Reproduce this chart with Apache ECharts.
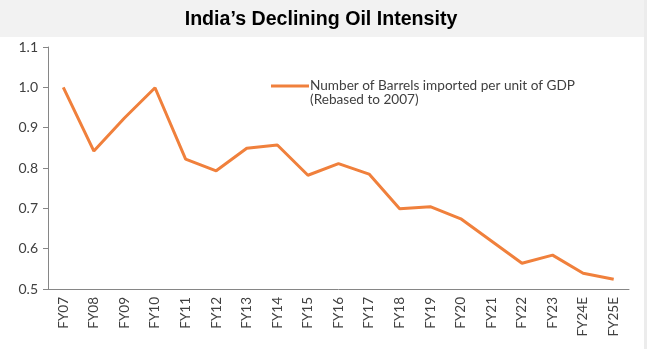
<!DOCTYPE html>
<html><head><meta charset="utf-8">
<script src="https://cdn.jsdelivr.net/npm/echarts@6/dist/echarts.min.js"></script>
<style>html,body{margin:0;padding:0;background:#fff}#c{width:647px;height:349px}</style>
</head><body><div id="c"></div>
<script>
const categories = ['FY07','FY08','FY09','FY10','FY11','FY12','FY13','FY14','FY15','FY16','FY17','FY18','FY19','FY20','FY21','FY22','FY23','FY24E','FY25E'];
const barrelsPerGDP = [1.0,0.842,0.924,0.999,0.822,0.793,0.849,0.857,0.782,0.811,0.785,0.699,0.704,0.674,0.619,0.564,0.584,0.539,0.524];
const yTicks = {min:0.5, max:1.1, interval:0.1};
const seriesName = 'Number of Barrels imported per unit of GDP';
const subtitle = '(Rebased to 2007)';
const titleText = 'India\u2019s Declining Oil Intensity';
const labelFont = 'Lato, Carlito, Calibri, sans-serif';

const chart = echarts.init(document.getElementById('c'));
chart.setOption({
  animation:false,
  backgroundColor:'#fff',
  graphic:[
    {type:'rect',z:-1,shape:{x:0,y:0,width:647,height:37},style:{fill:'#f2f2f2'}},
    {type:'rect',z:-1,shape:{x:644,y:0,width:3,height:349},style:{fill:'#ececec'}},
    {type:'text',x:321,y:19.5,scaleX:0.98,originX:0,
      style:{text:titleText,font:'bold 20px "Liberation Sans", Arial, sans-serif',fill:'#000',align:'center',verticalAlign:'middle'}},
    {type:'text',left:310,top:93,style:{text:subtitle,font:'13.6px '+labelFont,fill:'#404040'}}
  ],
  legend:{left:266,top:74,itemWidth:38,itemHeight:3,itemGap:4,icon:'rect',
    textStyle:{fontFamily:labelFont,fontSize:13.6,color:'#404040',padding:[0,0,0,-4]},
    data:[seriesName]},
  grid:{left:48,right:18,top:47,bottom:60},
  xAxis:{type:'category',data:categories,boundaryGap:true,
    axisLine:{lineStyle:{color:'#868686',width:1}},
    axisTick:{alignWithLabel:false,length:5,lineStyle:{color:'#868686'}},
    axisLabel:{rotate:90,interval:0,color:'#404040',fontSize:13.5,fontFamily:labelFont,margin:8}},
  yAxis:{type:'value',min:yTicks.min,max:yTicks.max,interval:yTicks.interval,
    axisLine:{show:true,lineStyle:{color:'#868686'}},
    axisTick:{show:true,length:5,lineStyle:{color:'#868686'}},
    splitLine:{show:false},
    axisLabel:{color:'#404040',fontSize:14,fontFamily:labelFont,margin:10,formatter:v=>v.toFixed(1)}},
  series:[{name:seriesName,type:'line',data:barrelsPerGDP,showSymbol:false,symbol:'none',
    lineStyle:{color:'#f0803c',width:3},itemStyle:{color:'#f0803c'}}]
});
</script></body></html>
